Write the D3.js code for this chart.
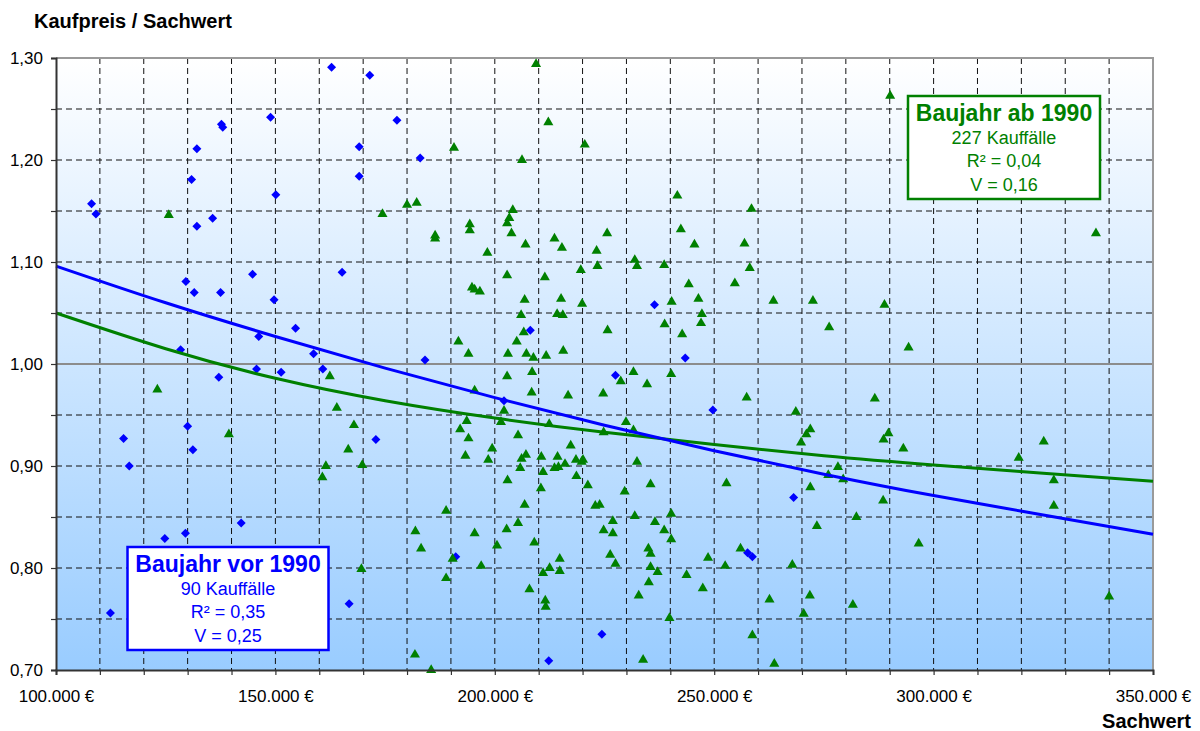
<!DOCTYPE html>
<html lang="de">
<head>
<meta charset="utf-8">
<title>Kaufpreis / Sachwert</title>
<script src="https://cdn.jsdelivr.net/npm/d3@7/dist/d3.min.js"></script>
<style>
  html, body { margin: 0; padding: 0; background: #fff; }
  svg { display: block; font-family: "Liberation Sans", Arial, Helvetica, sans-serif; }
</style>
</head>
<body>
<svg id="chart" width="1200" height="731"></svg>
<script>
// Sachwert (€) und Kaufpreis/Sachwert – Baujahr vor 1990
const vor1990 = [
  [108100,1.157],[109100,1.147],[130900,1.181],[132100,1.211],[132100,1.135],[135700,1.143],
  [137700,1.235],[138000,1.232],[148900,1.242],[150100,1.166],[162800,1.291],[171500,1.283],
  [169100,1.213],[169100,1.184],[177700,1.239],[183000,1.202],[129600,1.081],[131500,1.070],
  [137500,1.070],[144800,1.088],[149700,1.063],[165200,1.090],[154600,1.035],[146200,1.027],
  [158700,1.010],[128400,1.014],[236400,1.058],[208100,1.033],[184100,1.004],[243400,1.006],
  [145700,0.995],[151300,0.992],[160800,0.995],[137100,0.987],[130000,0.939],[115400,0.927],
  [116700,0.900],[131200,0.916],[172900,0.926],[142200,0.844],[129500,0.834],[124800,0.829],
  [166800,0.765],[112400,0.756],[227500,0.989],[202100,0.964],[249700,0.955],[191100,0.811],
  [257600,0.815],[258700,0.811],[224400,0.735],[212300,0.709],[268100,0.869]
];

// Sachwert (€) und Kaufpreis/Sachwert – Baujahr ab 1990
const ab1990 = [
  [125700,1.146],[174400,1.147],[180000,1.156],[182200,1.158],
  [209400,1.294],[212200,1.237],[190700,1.212],[220500,1.215],[206200,1.200],[241600,1.165],
  [258500,1.152],[204100,1.151],[203300,1.143],[202800,1.138],[194300,1.137],[194300,1.131],
  [186400,1.126],[186400,1.123],[203800,1.128],[225600,1.128],[242400,1.132],[213600,1.123],
  [215300,1.114],[207000,1.117],[245500,1.117],[256900,1.118],[198300,1.109],[223200,1.111],
  [231900,1.102],[232400,1.096],[223400,1.096],[238600,1.097],[258100,1.094],[219600,1.092],
  [202800,1.087],[211400,1.085],[194800,1.075],[195400,1.073],[196600,1.071],[244200,1.078],
  [254700,1.079],[246400,1.064],[240300,1.061],[263500,1.062],[206800,1.063],[215100,1.064],
  [219900,1.059],[206000,1.048],[214200,1.049],[215500,1.048],[247200,1.049],[247000,1.040],
  [238700,1.039],[225700,1.033],[206600,1.031],[242700,1.029],[205000,1.022],[191700,1.022],
  [194000,1.010],[203000,1.010],[207200,1.010],[208800,1.006],[211700,1.008],[215600,1.013],
  [290100,1.263],[337000,1.128],[272500,1.062],[288800,1.058],[276200,1.036],[294300,1.016],
  [123100,0.975],[162400,0.988],[164000,0.957],[167900,0.940],[139400,0.931],[166600,0.916],
  [161500,0.900],[169800,0.901],[160700,0.889],[181900,0.836],[169600,0.799],[181800,0.715],
  [202800,0.988],[208500,0.992],[208400,0.972],[195400,0.974],[216700,0.969],[224700,0.971],
  [228700,0.983],[231600,0.992],[234700,0.980],[240200,0.990],[257400,0.967],[202100,0.954],
  [193600,0.944],[192100,0.936],[194000,0.927],[201400,0.943],[205300,0.930],[212400,0.941],
  [224800,0.933],[229900,0.943],[231600,0.935],[199400,0.917],[193300,0.910],[198500,0.906],
  [205800,0.898],[206100,0.907],[207100,0.911],[210600,0.909],[211000,0.894],[214300,0.909],
  [213600,0.898],[214500,0.899],[216000,0.902],[217300,0.920],[218500,0.906],[219800,0.904],
  [220100,0.906],[218600,0.890],[232400,0.904],[202900,0.886],[210500,0.878],[221200,0.881],
  [229600,0.875],[235500,0.882],[252800,0.883],[188900,0.856],[206800,0.862],[222900,0.861],
  [223900,0.862],[231900,0.851],[240200,0.853],[226900,0.846],[236500,0.845],[205300,0.844],
  [202700,0.838],[195400,0.834],[224800,0.837],[226900,0.834],[238600,0.837],[240200,0.828],
  [200500,0.822],[209000,0.825],[183200,0.819],[235000,0.819],[235500,0.814],[226300,0.813],
  [256000,0.819],[248600,0.810],[190400,0.809],[196900,0.802],[227500,0.804],[214800,0.809],
  [212500,0.800],[211000,0.795],[214800,0.797],[235500,0.801],[237100,0.796],[252500,0.802],
  [243700,0.793],[188900,0.790],[207900,0.779],[235100,0.786],[247400,0.780],[232800,0.773],
  [211500,0.768],[211600,0.762],[262600,0.769],[239800,0.751],[258700,0.734],[233800,0.710],
  [185500,0.700],[263700,0.706],
  [268600,0.953],[286600,0.966],[271900,0.936],[271000,0.931],[269800,0.923],[289700,0.932],
  [288600,0.926],[293100,0.917],[325100,0.924],[319400,0.908],[278200,0.899],[276000,0.891],
  [279400,0.887],[327400,0.886],[271900,0.879],[288500,0.866],[327400,0.861],[282400,0.850],
  [273400,0.841],[296600,0.824],[267800,0.803],[271800,0.773],[281600,0.764],[270400,0.755],
  [340000,0.772]
];

// Trendlinien (Stützpunkte alle 25.000 €)
const trendVor1990 = [
  [100000,1.096],[125000,1.060],[150000,1.027],[175000,0.996],[200000,0.967],[225000,0.940],
  [250000,0.915],[275000,0.892],[300000,0.871],[325000,0.852],[350000,0.833]
];
const trendAb1990 = [
  [100000,1.050],[125000,1.015],[150000,0.986],[175000,0.964],[200000,0.947],[225000,0.933],
  [250000,0.921],[275000,0.910],[300000,0.901],[325000,0.893],[350000,0.885]
];

// Achsen
const xTicks = d3.range(100000, 350001, 10000);
const xLabels = [100000, 150000, 200000, 250000, 300000, 350000];
const yTicks = d3.range(0, 13).map(i => +(0.70 + i * 0.05).toFixed(2));
const yLabels = [0.70, 0.80, 0.90, 1.00, 1.10, 1.20, 1.30];

// Legenden-Texte
const boxVor1990 = ["Baujahr vor 1990", "90 Kauffälle", "R² = 0,35", "V = 0,25"];
const boxAb1990 = ["Baujahr ab 1990", "227 Kauffälle", "R² = 0,04", "V = 0,16"];

const BLUE = "#0000FF", GREEN = "#008000";
const svg = d3.select("#chart");
const L = 56, R = 1153, T = 58, B = 670;

const x = d3.scaleLinear().domain([100000, 350000]).range([L, R]);
const y = d3.scaleLinear().domain([0.70, 1.30]).range([B, T]);

// Hintergrund-Verlauf
const defs = svg.append("defs");
const grad = defs.append("linearGradient").attr("id", "bg")
  .attr("x1", 0).attr("y1", 0).attr("x2", 0).attr("y2", 1);
grad.append("stop").attr("offset", "0%").attr("stop-color", "#FFFFFF");
grad.append("stop").attr("offset", "100%").attr("stop-color", "#99CCFF");

svg.append("rect").attr("x", L).attr("y", T).attr("width", R - L).attr("height", B - T)
  .attr("fill", "url(#bg)");

// Gitternetz
const grid = svg.append("g");
grid.selectAll("line.v").data(xTicks.filter(v => v > 100000 && v < 350000)).join("line")
  .attr("x1", d => x(d)).attr("x2", d => x(d)).attr("y1", T).attr("y2", B)
  .attr("stroke", "#111").attr("stroke-width", 1).attr("stroke-dasharray", "6,4");
grid.selectAll("line.h").data(yTicks.filter(v => v > 0.70 && v < 1.30 && Math.abs(v - 1) > 1e-9)).join("line")
  .attr("x1", L).attr("x2", R).attr("y1", d => y(d)).attr("y2", d => y(d))
  .attr("stroke", "#111").attr("stroke-width", 1).attr("stroke-dasharray", "6,4");
grid.append("line").attr("x1", L).attr("x2", R).attr("y1", y(1)).attr("y2", y(1))
  .attr("stroke", "#8c8c8c").attr("stroke-width", 2);

// Rahmen oben/rechts
svg.append("path").attr("d", `M${L},${T}H${R}V${B}`).attr("fill", "none")
  .attr("stroke", "#9a9a9a").attr("stroke-width", 2);

// Punkte
const diamond = "M0,-4.5L4.5,0L0,4.5L-4.5,0Z";
svg.append("g").selectAll("path").data(vor1990).join("path")
  .attr("d", diamond).attr("transform", d => `translate(${x(d[0])},${y(d[1])})`)
  .attr("fill", BLUE);
const tri = d3.symbol(d3.symbolTriangle, 44)();
svg.append("g").selectAll("path").data(ab1990).join("path")
  .attr("d", tri).attr("transform", d => `translate(${x(d[0])},${y(d[1])})`)
  .attr("fill", GREEN);

// Trendlinien
const line = d3.line().x(d => x(d[0])).y(d => y(d[1])).curve(d3.curveNatural);
svg.append("path").datum(trendAb1990).attr("d", line).attr("fill", "none")
  .attr("stroke", GREEN).attr("stroke-width", 3);
svg.append("path").datum(trendVor1990).attr("d", line).attr("fill", "none")
  .attr("stroke", BLUE).attr("stroke-width", 3);

// Achsen
const fmtX = v => d3.format(",")(v).replace(/,/g, ".") + " €";
const fmtY = v => d3.format(".2f")(v).replace(".", ",");

const xAxis = svg.append("g").attr("transform", `translate(0,${B})`)
  .call(d3.axisBottom(x).tickValues(xTicks).tickSize(5).tickPadding(15)
    .tickFormat(v => xLabels.includes(v) ? fmtX(v) : ""));
const yAxis = svg.append("g").attr("transform", `translate(${L},0)`)
  .call(d3.axisLeft(y).tickValues(yTicks).tickSize(5).tickPadding(8)
    .tickFormat(v => yLabels.some(l => Math.abs(l - v) < 1e-9) ? fmtY(v) : ""));
[xAxis, yAxis].forEach(a => {
  a.select(".domain").attr("stroke", "#333").attr("stroke-width", 2);
  a.selectAll(".tick line").attr("stroke", "#333").attr("stroke-width", 1.2);
  a.selectAll(".tick text").attr("font-size", 17).attr("fill", "#000")
    .attr("font-family", "'Liberation Sans', Arial, sans-serif");
});

// Achsentitel
svg.append("text").attr("x", 34).attr("y", 28).attr("font-size", 20).attr("font-weight", "bold")
  .text("Kaufpreis / Sachwert");
svg.append("text").attr("x", 1191).attr("y", 728).attr("text-anchor", "end")
  .attr("font-size", 20).attr("font-weight", "bold").text("Sachwert");

// Legendenkästen
function infoBox(lines, bx, by, bw, bh, color) {
  const g = svg.append("g");
  g.append("rect").attr("x", bx).attr("y", by).attr("width", bw).attr("height", bh)
    .attr("fill", "#fff").attr("stroke", color).attr("stroke-width", 2.5);
  const cx = bx + bw / 2;
  lines.forEach((t, i) => {
    g.append("text").attr("x", cx).attr("y", by + 25 + i * 23.2)
      .attr("text-anchor", "middle").attr("fill", color)
      .attr("font-size", i === 0 ? 23 : 18).attr("font-weight", i === 0 ? "bold" : "normal")
      .text(t);
  });
}
infoBox(boxVor1990, 127.5, 547, 201, 103, BLUE);
infoBox(boxAb1990, 908, 96, 192, 103, GREEN);
</script>
</body>
</html>
